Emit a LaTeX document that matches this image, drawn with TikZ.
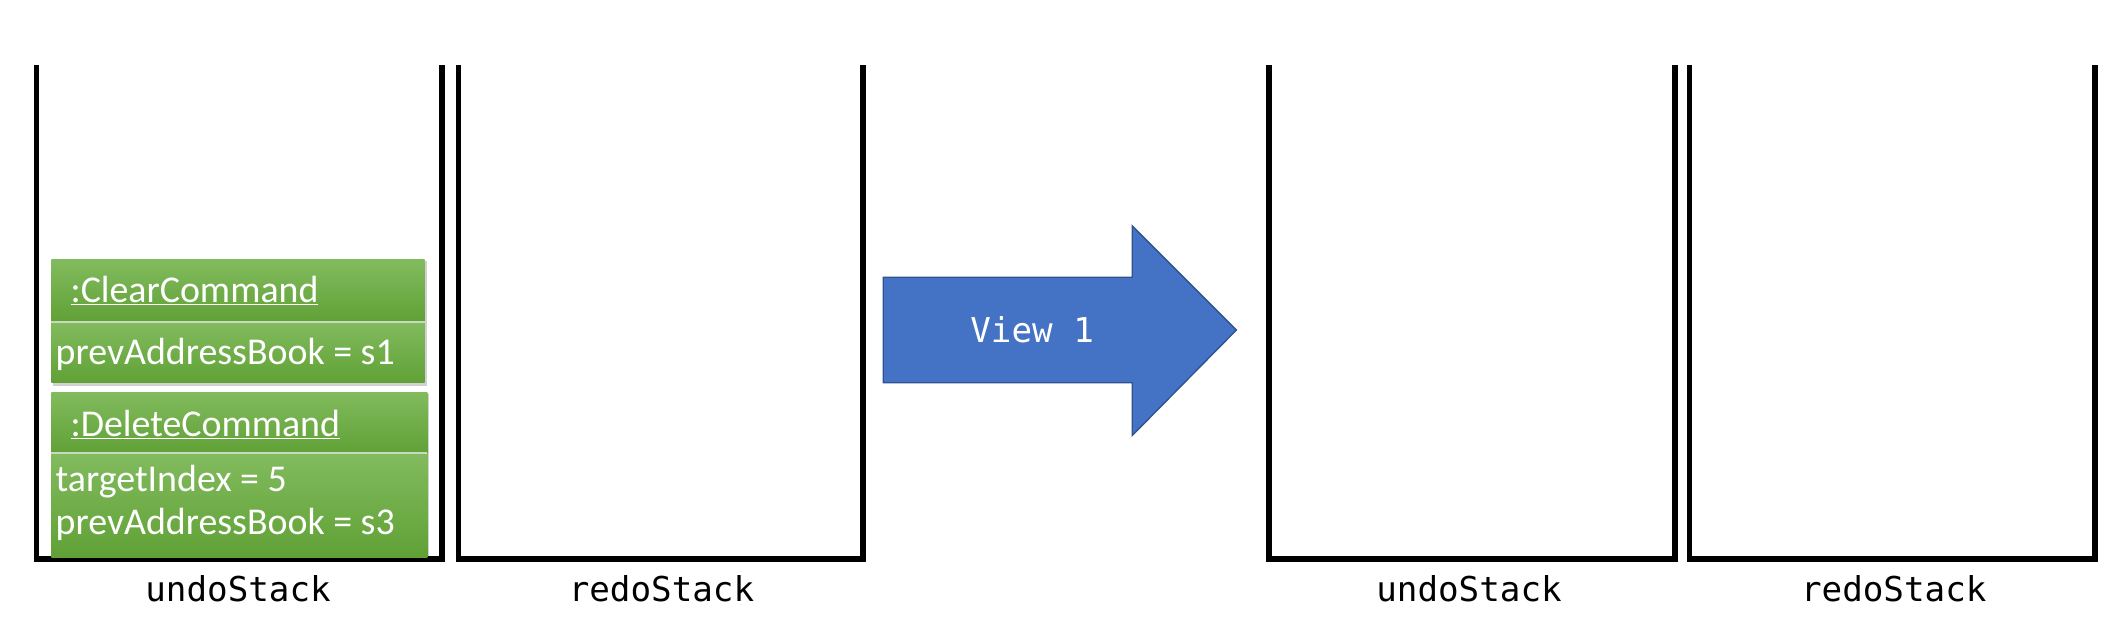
\documentclass[tikz,border=0pt]{standalone}
\usepackage{fontspec}
\setmainfont{Carlito}
\newfontfamily\monofont{DejaVu Sans Mono}
\definecolor{gTop}{HTML}{82BB5E}
\definecolor{gBot}{HTML}{60A136}
\definecolor{aFill}{HTML}{4472C4}
\definecolor{aLine}{HTML}{2F528F}
\definecolor{divln}{HTML}{C9D9C0}
\tikzset{
  stackwall/.style={line width=4.3pt, black, line join=miter},
  stacklabel/.style={font=\monofont\fontsize{25.3}{29}\selectfont, inner sep=0pt},
  cmdpart/.style={shading=axis, top color=gTop, bottom color=gBot},
  cmdshadow/.style={fill=black, opacity=0.18},
  cmdtext/.style={font=\fontsize{28}{33}\selectfont, text=white, anchor=west, inner sep=0pt},
  divider/.style={draw=divln, line width=1.4pt},
  bigarrow/.style={fill=aFill, draw=aLine, line width=1pt, line join=miter}
}
\begin{document}
\begin{tikzpicture}[x=1pt,y=1pt]
\useasboundingbox (0,0) rectangle (1568,469);
% stacks
\draw[stackwall] (27,421) -- (27,55.5) -- (327,55.5) -- (327,421);
\draw[stackwall] (339,421) -- (339,55.5) -- (638,55.5) -- (638,421);
\draw[stackwall] (938,421) -- (938,55.5) -- (1238,55.5) -- (1238,421);
\draw[stackwall] (1249,421) -- (1249,55.5) -- (1549,55.5) -- (1549,421);
\node[stacklabel] (u1) at (176,34) {undoStack};
\node[stacklabel] (r1) at (489,34) {redoStack};
\node[stacklabel] (u2) at (1086,34) {undoStack};
\node[stacklabel] (r2) at (1400,34) {redoStack};
% ClearCommand box
\fill[cmdshadow] (39.5,184) rectangle (315.5,276);
\path[cmdpart] (38,277) rectangle (314,231);
\path[cmdpart] (38,231) rectangle (314,186);
\draw[divider] (38,231) -- (314,231);
\node[cmdtext] (cc) at (52,254) {\underline{:ClearCommand}};
\node[cmdtext] (cc1) at (41,207) {prevAddressBook = s1};
% DeleteCommand box
\fill[cmdshadow] (39.5,55) rectangle (317.5,178);
\path[cmdpart] (38,179) rectangle (316,134);
\path[cmdpart] (38,134) rectangle (316,57);
\draw[divider] (38,134) -- (316,134);
\node[cmdtext] (dc) at (52,155) {\underline{:DeleteCommand}};
\node[cmdtext] (dc1) at (41,113) {targetIndex = 5};
\node[cmdtext] (dc2) at (41,81) {prevAddressBook = s3};
% arrow
\draw[bigarrow] (653,264) -- (837,264) -- (837,302) -- (914,225) -- (837,147) -- (837,186) -- (653,186) -- cycle;
\node[font=\monofont\fontsize{25.3}{29}\selectfont, text=white, inner sep=0pt] (v1) at (763,225) {View 1};
\end{tikzpicture}
\end{document}
